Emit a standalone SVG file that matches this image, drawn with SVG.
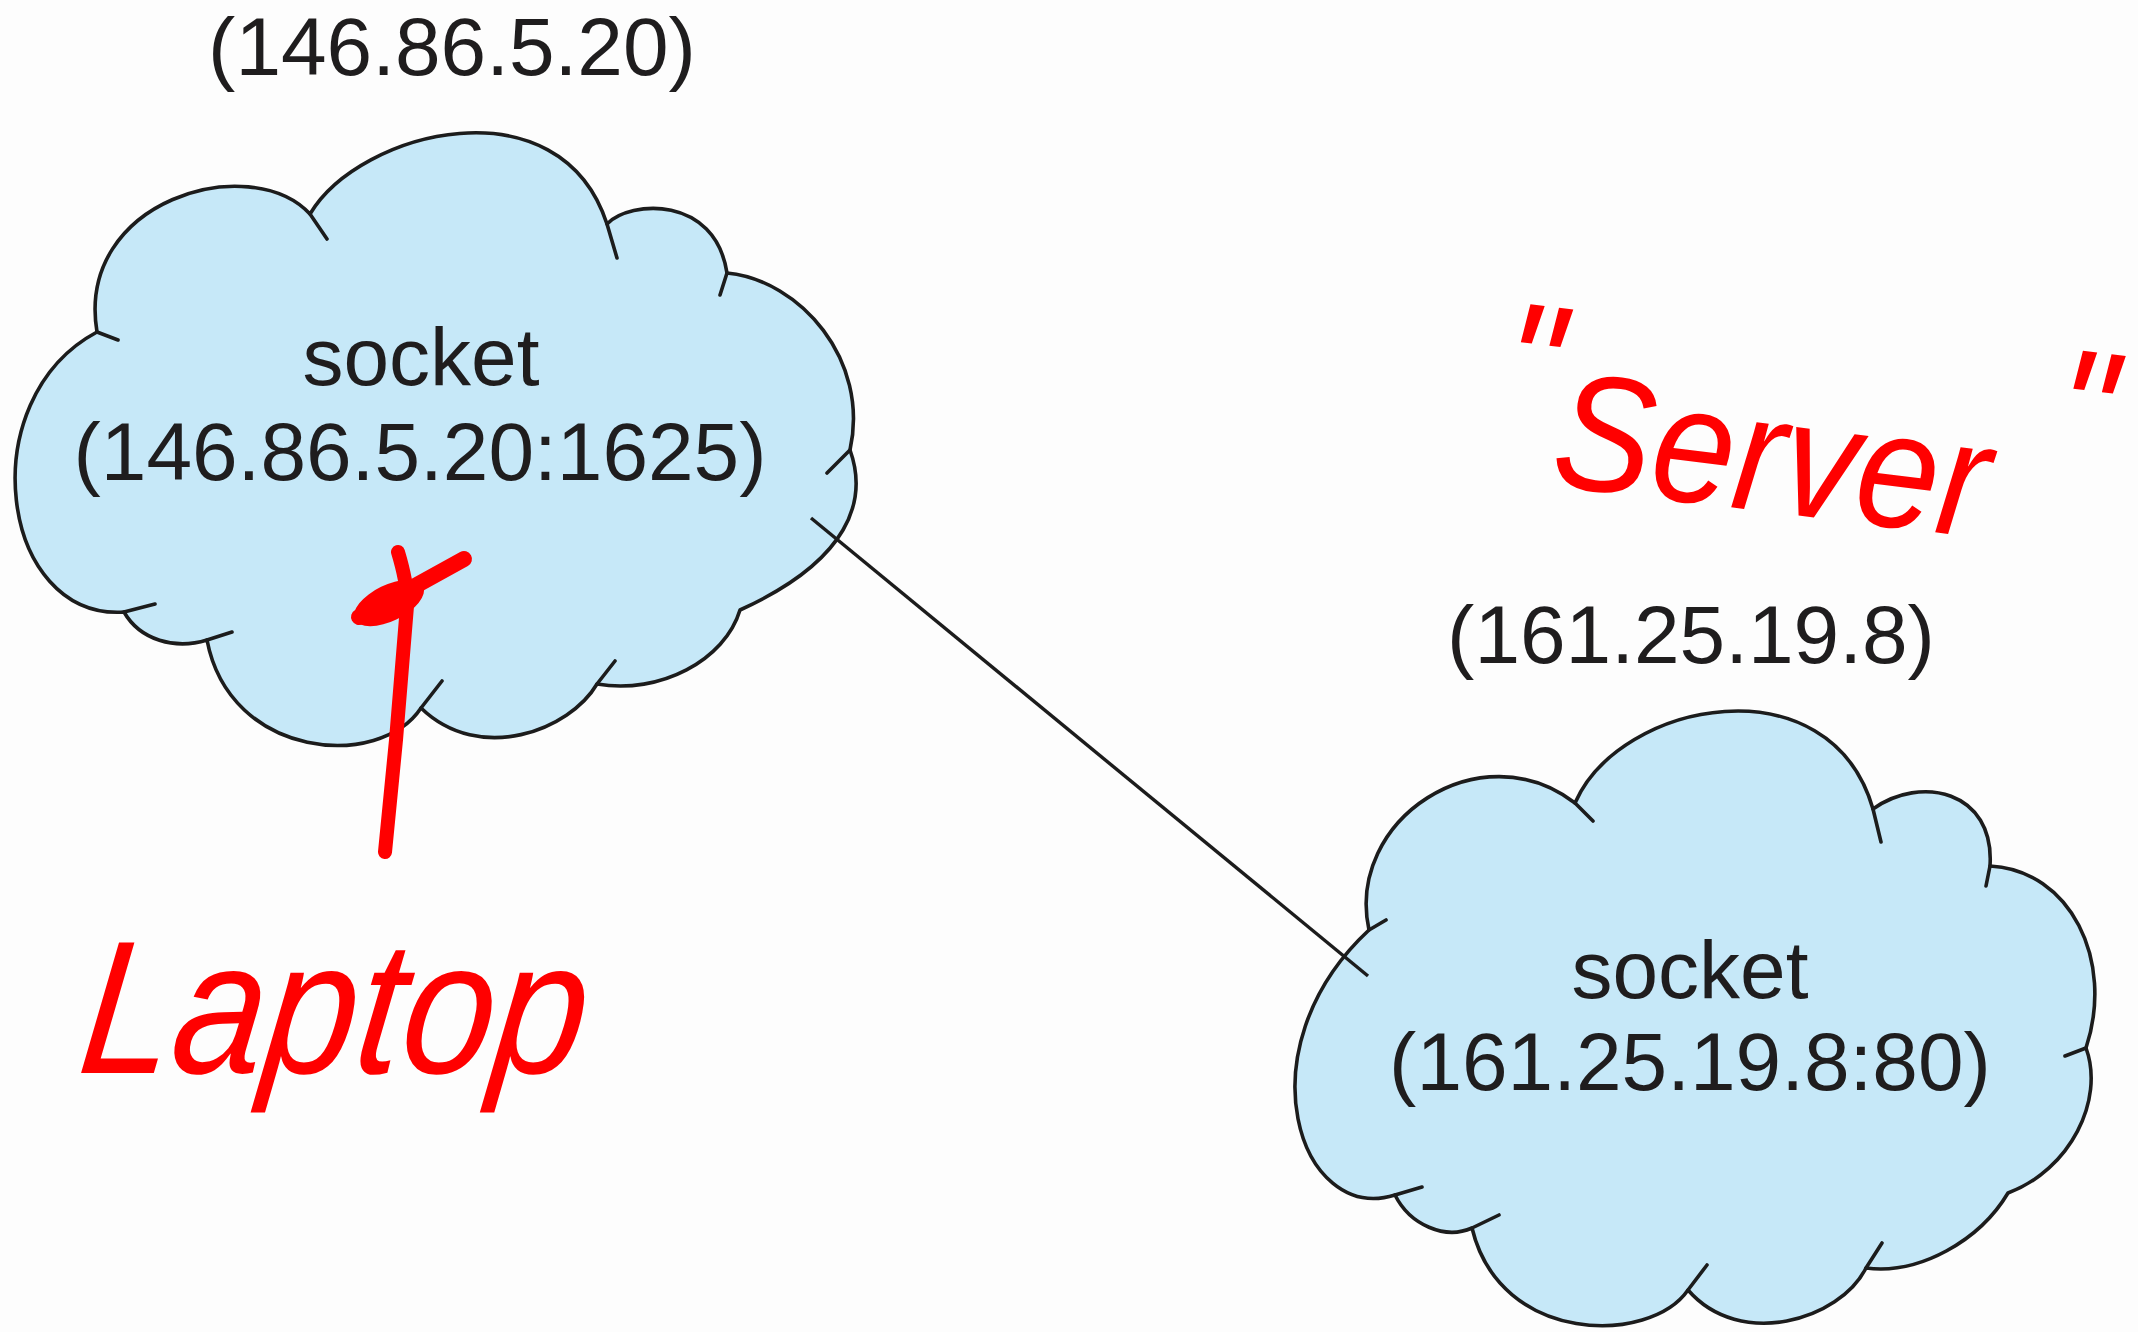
<svg xmlns="http://www.w3.org/2000/svg" width="2138" height="1332" viewBox="0 0 2138 1332">
  <style>
    .bg { fill: #fdfdfd; }
    .cloud { fill: #c6e8f8; stroke: #1c1c1c; stroke-width: 3.6; stroke-linejoin: round; }
    .tick { fill: none; stroke: #1c1c1c; stroke-width: 3.6; stroke-linecap: round; }
    .lbl { font-family: "Liberation Sans", Arial, Helvetica, sans-serif; font-size: 82px; fill: #1f1d1e; text-anchor: middle; }
    .link { stroke: #1c1c1c; stroke-width: 3.4; fill: none; }
    .ink { fill: none; stroke: #ff0000; stroke-linecap: round; stroke-linejoin: round; }
    .hand { font-family: "Liberation Sans", Arial, sans-serif; font-style: italic; fill: #ff0000; }
  </style>

  <rect class="bg" x="0" y="0" width="2138" height="1332"/>

  <!-- client host: socket 146.86.5.20:1625 -->
  <g id="node-client">
    <text class="lbl" x="452" y="75">(146.86.5.20)</text>
    <path class="cloud" d="M310,214 C360,130 560,80 607,224 C630,200 715,195 727,273 C800,280 870,360 850,450 C868,500 850,560 740,610 C725,660 660,695 597,684 C570,730 480,765 421,708 C380,770 230,760 207,640 C175,650 140,640 124,612 C0,620 -30,400 97,332 C75,200 250,150 310,214 Z"/>
    <path class="tick" d="M310,214 L327,239 M607,224 L617,258 M727,273 L720,295 M850,450 L827,473 M597,684 L615,661 M421,708 L442,681 M207,640 L232,632 M124,612 L155,604 M97,332 L118,340"/>
    <text class="lbl" x="421" y="385">socket</text>
    <text class="lbl" x="420" y="480">(146.86.5.20:1625)</text>
  </g>

  <!-- server host: socket 161.25.19.8:80 -->
  <g id="node-server">
    <text class="lbl" x="1691" y="663">(161.25.19.8)</text>
    <path class="cloud" d="M1369,930 C1345,820 1480,730 1575,803 C1620,700 1830,660 1873,809 C1920,775 1995,790 1990,866 C2070,870 2115,960 2086,1048 C2105,1100 2070,1170 2008,1193 C1980,1240 1920,1275 1866,1268 C1840,1320 1740,1350 1688,1290 C1650,1345 1500,1345 1472,1228 C1445,1240 1410,1225 1395,1195 C1300,1225 1240,1050 1369,930 Z"/>
    <path class="tick" d="M1369,930 L1386,920 M1575,803 L1593,821 M1873,809 L1881,842 M1990,866 L1986,886 M2086,1048 L2065,1056 M1866,1268 L1882,1243 M1688,1290 L1707,1265 M1472,1228 L1499,1215 M1395,1195 L1422,1187"/>
    <text class="lbl" x="1690" y="998">socket</text>
    <text class="lbl" x="1690" y="1090">(161.25.19.8:80)</text>
  </g>

  <!-- connection between the two sockets -->
  <g id="connectors">
    <line class="link" x1="811" y1="518" x2="1368" y2="976"/>
  </g>

  <!-- red pen notes -->
  <g id="notes">
    <path class="ink" stroke-width="14" d="M398,552 C404,572 408,590 407,606 L396,740 L385,852"/>
    <path class="ink" stroke-width="16" d="M359,617 L464,559"/>
    <ellipse cx="389" cy="603" rx="38" ry="18" fill="#ff0000" transform="rotate(-26 389 603)"/>
    <text class="hand" font-size="165" transform="translate(76,1073) scale(1,1.15) skewX(-8)">Laptop</text>
    <text class="hand" transform="translate(1549,485) rotate(7) scale(1,1.12)"><tspan font-size="160" x="-60" y="-48">"</tspan><tspan font-size="148" x="0" y="0">Server</tspan><tspan font-size="160" x="494" y="-67">"</tspan></text>
  </g>
</svg>
